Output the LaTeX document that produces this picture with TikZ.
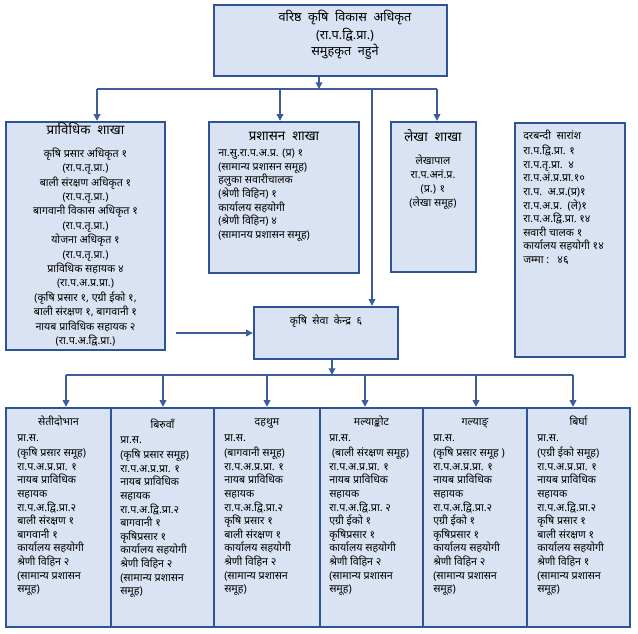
\documentclass[tikz,border=0pt]{standalone}
\usepackage{fontspec}
\newfontfamily\dev[Script=Devanagari]{Noto Sans}
\usetikzlibrary{arrows.meta,fit}
\definecolor{bfill}{HTML}{DAE3F3}
\definecolor{bline}{HTML}{2F5496}
\definecolor{cline}{HTML}{3B5D9C}
\begin{document}
\begin{tikzpicture}[x=0.75pt,y=-0.75pt,
  box/.style={draw=bline, fill=bfill, line width=1.8pt, inner sep=0pt},
  conn/.style={draw=cline, line width=1pt},
  arr/.style={conn, -{Triangle[length=5pt,width=5pt]}},
  txt/.style={font=\dev\fontsize{8}{10.2}\selectfont, inner sep=0pt, text=black},
  ttl/.style={font=\dev\fontsize{10}{12}\selectfont, inner sep=0pt, text=black},
  bodyc/.style={txt, anchor=north, align=center},
  bodyl/.style={txt, anchor=north west, align=left},
]
\useasboundingbox (0,0) rectangle (638,634);
% boxes
\node[box, fit={(214,5)(447,76)}] (top) {};
\node[box, fit={(6,122)(165,350)}] (L) {};
\node[box, fit={(209,122)(359,273)}] (M) {};
\node[box, fit={(391,122)(476,272)}] (Lk) {};
\node[box, fit={(515,123)(625,357)}] (D) {};
\node[box, fit={(254,307)(398,359)}] (K) {};
\node[box, fit={(6,408)(111,627)}] (b1) {};
\node[box, fit={(111,408)(214,627)}] (b2) {};
\node[box, fit={(214,408)(320,627)}] (b3) {};
\node[box, fit={(320,408)(423,627)}] (b4) {};
\node[box, fit={(423,408)(527,627)}] (b5) {};
\node[box, fit={(527,408)(630,627)}] (b6) {};
% top text
\node[bodyc, font=\dev\fontsize{9.5}{12}\selectfont] (topt) at (345,10)
 {\strut वरिष्ठ\ \ कृषि\ \ विकास\ \ अधिकृत\\(रा.प.द्वि.प्रा.)\\समुहकृत\ \ नहुने};
% left
\node[ttl, anchor=north] (Lh) at (85.5,122) {\strut प्राविधिक\ \ शाखा};
\node[bodyc, font=\dev\fontsize{8}{10.8}\selectfont] (Lb) at (85.5,147)
 {\strut कृषि प्रसार अधिकृत १\\(रा.प.तृ.प्रा.)\\बाली संरक्षण अधिकृत १\\(रा.प.तृ.प्रा.)\\बागवानी विकास अधिकृत १\\(रा.प.तृ.प्रा.)\\योजना अधिकृत १\\(रा.प.तृ.प्रा.)\\प्राविधिक सहायक ४\\(रा.प.अ.प्र.प्रा.)\\(कृषि प्रसार १, एग्री ईको १,\\बाली संरक्षण १, बागवानी १\\नायब प्राविधिक सहायक २\\(रा.प.अ.द्वि.प्रा.)};
% middle
\node[ttl, anchor=north] (Mh) at (284,129) {\strut प्रशासन\ \ शाखा};
\node[bodyl] (Mb) at (218,147)
 {\strut ना.सु.रा.प.अ.प्र. (प्र) १\\(सामान्य प्रशासन समूह)\\हलुका सवारीचालक\\(श्रेणी विहिन) १\\कार्यालय सहयोगी\\(श्रेणी विहिन) ४\\(सामानय प्रशासन समूह)};
% lekha
\node[ttl, anchor=north] (Lkh) at (433,129) {\strut लेखा\ \ शाखा};
\node[bodyc, font=\dev\fontsize{8}{10.6}\selectfont] (Lkb) at (433,154)
 {\strut लेखापाल\\रा.प.अनं.प्र.\\(प्र.) १\\(लेखा समूह)};
% darbandi
\node[bodyl] (Db) at (523,130)
 {\strut दरबन्दी\ \ सारांश\\रा.प.द्वि.प्रा. १\\रा.प.तृ.प्रा.\ \ ४\\रा.प.अं.प्र.प्रा.१०\\रा.प.\ \ अ.प्र.(प्र)१\\रा.प.अ.प्र.\ \ (ले)१\\रा.प.अ.द्वि.प्रा.\ १४\\सवारी चालक १\\कार्यालय सहयोगी १४\\जम्मा :\ \ \ ४६};
% kendra
\node[bodyc] (Kt) at (326,315) {\strut कृषि\ \ सेवा\ \ केन्द्र\ \ ६};
% bottom titles
\node[bodyc] (t1) at (58.5,416) {\strut सेतीदोभान};
\node[bodyc] (t2) at (162.5,419) {\strut बिरुवाँ};
\node[bodyc] (t3) at (267,416) {\strut दहथुम};
\node[bodyc] (t4) at (371.5,416) {\strut मल्याङ्कोट};
\node[bodyc] (t5) at (475,416) {\strut गल्याङ्};
\node[bodyc] (t6) at (578.5,416) {\strut बिर्घा};
% bottom bodies
\node[bodyl] (c1) at (17,432)
 {\strut प्रा.स.\\(कृषि प्रसार समूह)\\रा.प.अ.प्र.प्रा. १\\नायब प्राविधिक\\सहायक\\रा.प.अ.द्वि.प्रा.२\\बाली संरक्षण १\\बागवानी १\\कार्यालय सहयोगी\\श्रेणी विहिन २\\(सामान्य प्रशासन\\समूह)};
\node[bodyl] (c2) at (120,434)
 {\strut प्रा.स.\\(कृषि प्रसार समूह)\\रा.प.अ.प्र.प्रा. १\\नायब प्राविधिक\\सहायक\\रा.प.अ.द्वि.प्रा.२\\बागवानी १\\कृषिप्रसार १\\कार्यालय सहयोगी\\श्रेणी विहिन २\\(सामान्य प्रशासन\\समूह)};
\node[bodyl] (c3) at (224,432)
 {\strut प्रा.स.\\(बागवानी समूह)\\रा.प.अ.प्र.प्रा. १\\नायब प्राविधिक\\सहायक\\रा.प.अ.द्वि.प्रा.२\\कृषि प्रसार १\\बाली संरक्षण १\\कार्यालय सहयोगी\\श्रेणी विहिन २\\(सामान्य प्रशासन\\समूह)};
\node[bodyl] (c4) at (329,432)
 {\strut प्रा.स.\\\ (बाली संरक्षण समूह)\\रा.प.अ.प्र.प्रा. १\\नायब प्राविधिक\\सहायक\\रा.प.अ.द्वि.प्रा.\ २\\एग्री ईको १\\कृषिप्रसार १\\कार्यालय सहयोगी\\श्रेणी विहिन २\\(सामान्य प्रशासन\\समूह)};
\node[bodyl] (c5) at (433,432)
 {\strut प्रा.स.\\(कृषि प्रसार समूह )\\रा.प.अ.प्र.प्रा. १\\नायब प्राविधिक\\सहायक\\रा.प.अ.द्वि.प्रा.२\\एग्री ईको १\\कृषिप्रसार १\\कार्यालय सहयोगी\\श्रेणी विहिन २\\(सामान्य प्रशासन\\समूह)};
\node[bodyl] (c6) at (537,432)
 {\strut प्रा.स.\\(एग्री ईको समूह)\\रा.प.अ.प्र.प्रा. १\\नायब प्राविधिक\\सहायक\\रा.प.अ.द्वि.प्रा.२\\कृषि प्रसार १\\बाली संरक्षण १\\कार्यालय सहयोगी\\श्रेणी विहिन १\\(सामान्य प्रशासन\\समूह)};
% connectors
\coordinate (j0) at (319,89);
\coordinate (hl) at (97,89);
\coordinate (hm) at (280,89);
\coordinate (hk) at (372,89);
\coordinate (hr) at (437,89);
\draw[arr] (top.south -| j0) -- (j0);
\draw[conn] (hl) -- (hr);
\draw[arr] (hl) -- (hl |- L.north);
\draw[arr] (hm) -- (hm |- M.north);
\draw[arr] (hk) -- (hk |- K.north);
\draw[arr] (hr) -- (hr |- Lk.north);
\coordinate (la) at (176,333);
\draw[arr] (la) -- (la -| K.west);
\coordinate (kb) at (332,375);
\draw[arr] (K.south -| kb) -- (kb);
\coordinate (bl) at (66,375);
\coordinate (br) at (573,375);
\draw[conn] (bl) -- (br);
\foreach \xx/\bb in {66/b1,163/b2,267/b3,365/b4,476/b5,573/b6}{
  \coordinate (d\bb) at (\xx,375);
  \draw[arr] (d\bb) -- (d\bb |- \bb.north);
}
\end{tikzpicture}
\end{document}
